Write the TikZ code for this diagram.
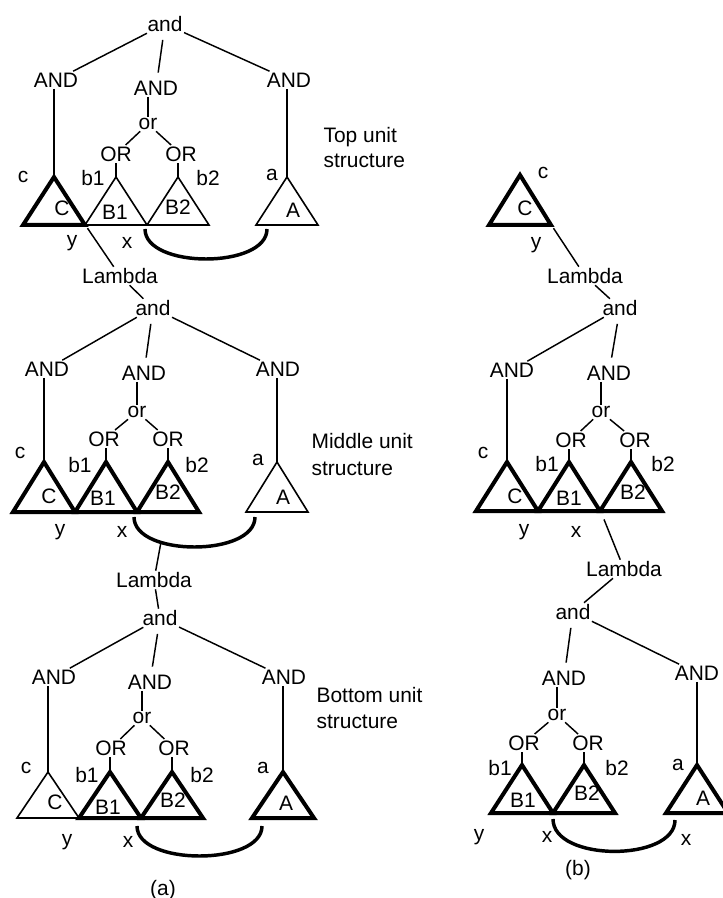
\documentclass[tikz,border=0pt]{standalone}
\usepackage{fontspec}
\setmainfont{Liberation Sans}
\begin{document}
\begin{tikzpicture}[x=0.75pt,y=0.75pt,yscale=-1,xscale=1,
  lbl/.style={inner sep=1pt,font=\fontsize{15.7}{18}\selectfont},
  lnk/.style={line width=1.1pt},
  gap/.style={shorten <=5pt,shorten >=5pt},
  trithin/.style={line width=1.2pt},
  tribold/.style={line width=3pt},
  bridge/.style={line width=2.6pt}]
\useasboundingbox (0,0) rectangle (722,898);

%%%%% (a) Top unit structure
% Text Node
\node[lbl] (andT) at (165,24) {and};
\node[lbl] (ANDTl) at (56,80) {AND};
\node[lbl] (ANDTm) at (156,88) {AND};
\node[lbl] (ANDTr) at (289,80) {AND};
\node[lbl] (orT) at (148,124) {or};
\node[lbl] (ORTl) at (116,154) {OR};
\node[lbl] (ORTr) at (181,154) {OR};
%Shape: Triangle
\coordinate (TC) at (54,177);
\coordinate (TB1) at (116,177);
\coordinate (TB2) at (178,177);
\coordinate (TA) at (287,177);
\draw[tribold] (TC) -- ++(-31,48) -- ++(62,0) -- cycle;
\draw[trithin] (TB1) -- ++(-31,48) -- ++(62,0) -- cycle;
\draw[trithin] (TB2) -- ++(-31,48) -- ++(62,0) -- cycle;
\draw[trithin] (TA) -- ++(-31,48) -- ++(62,0) -- cycle;
\coordinate (Ty) at (86,226);
% Text Node
\node[lbl] (cT) at (23,177) {c};
\node[lbl] (b1T) at (93,178) {b1};
\node[lbl] (b2T) at (208,178) {b2};
\node[lbl] (aT) at (272,175) {a};
\node[lbl] (CT) at (62,208) {C};
\node[lbl] (B1T) at (115,212) {B1};
\node[lbl] (B2T) at (178,207) {B2};
\node[lbl] (AT) at (293,210) {A};
\node[lbl] (yT) at (72,243) {y};
\node[lbl] (xT) at (127,243) {x};
\node[lbl] (lamT) at (120,276) {Lambda};
\node[lbl,anchor=base west] (unitT) at (322,143) {Top unit};
\node[lbl,anchor=base west] (strT) at (322,168) {structure};
%Straight Lines
\draw[lnk] (andT) -- (ANDTl);
\draw[lnk,gap] (andT) -- (ANDTm);
\draw[lnk] (andT) -- (ANDTr);
\draw[lnk] (ANDTl.south -| TC) -- (TC);
\draw[lnk] (ANDTr.south -| TA) -- (TA);
\draw[lnk] (ANDTm.south -| orT) -- (orT);
\draw[lnk] (orT) -- (ORTl);
\draw[lnk] (orT) -- (ORTr);
\draw[lnk] (ORTl.south -| TB1) -- (TB1);
\draw[lnk] (ORTr.south -| TB2) -- (TB2);
\draw[lnk,shorten <=2pt] (Ty) -- (lamT);
%Curve Lines
\draw[bridge] (145,229) .. controls (145,269) and (267,269) .. (267,229);

%%%%% (a) Middle unit structure
% Text Node
\node[lbl] (andM) at (153,308) {and};
\node[lbl] (ANDMl) at (47,369) {AND};
\node[lbl] (ANDMm) at (144,373) {AND};
\node[lbl] (ANDMr) at (278,369) {AND};
\node[lbl] (orM) at (137,412) {or};
\node[lbl] (ORMl) at (104,439) {OR};
\node[lbl] (ORMr) at (168,439) {OR};
%Shape: Triangle
\coordinate (MC) at (44,462);
\coordinate (MB1) at (106,462);
\coordinate (MB2) at (168,462);
\coordinate (MA) at (277,462);
\draw[tribold] (MC) -- ++(-31,50) -- ++(62,0) -- cycle;
\draw[tribold] (MB1) -- ++(-31,50) -- ++(62,0) -- cycle;
\draw[tribold] (MB2) -- ++(-31,50) -- ++(62,0) -- cycle;
\draw[trithin] (MA) -- ++(-31,50) -- ++(62,0) -- cycle;
% Text Node
\node[lbl] (cM) at (20,453) {c};
\node[lbl] (b1M) at (80,465) {b1};
\node[lbl] (b2M) at (197,465) {b2};
\node[lbl] (aM) at (258,460) {a};
\node[lbl] (CM) at (49,496) {C};
\node[lbl] (B1M) at (103,498) {B1};
\node[lbl] (B2M) at (168,492) {B2};
\node[lbl] (AM) at (283,497) {A};
\node[lbl] (yM) at (60,532) {y};
\node[lbl] (xM) at (122,532) {x};
\node[lbl] (lamM) at (154,580) {Lambda};
\node[lbl,anchor=base west] (unitM) at (310,448) {Middle unit};
\node[lbl,anchor=base west] (strM) at (310,475) {structure};
%Straight Lines
\draw[lnk] (lamT) -- (andM);
\draw[lnk] (andM) -- (ANDMl);
\draw[lnk,gap] (andM) -- (ANDMm);
\draw[lnk] (andM) -- (ANDMr);
\draw[lnk] (ANDMl.south -| MC) -- (MC);
\draw[lnk] (ANDMr.south -| MA) -- (MA);
\draw[lnk] (ANDMm.south -| orM) -- (orM);
\draw[lnk] (orM) -- (ORMl);
\draw[lnk] (orM) -- (ORMr);
\draw[lnk] (ORMl.south -| MB1) -- (MB1);
\draw[lnk] (ORMr.south -| MB2) -- (MB2);
%Curve Lines
\draw[bridge] (134,517) .. controls (134,557) and (255,557) .. (255,517);
\coordinate (Marc) at (161,542);
\draw[lnk] (Marc) -- (lamM);

%%%%% (a) Bottom unit structure
% Text Node
\node[lbl] (andB) at (160,618) {and};
\node[lbl] (ANDBl) at (54,677) {AND};
\node[lbl] (ANDBm) at (150,682) {AND};
\node[lbl] (ANDBr) at (284,677) {AND};
\node[lbl] (orB) at (142,718) {or};
\node[lbl] (ORBl) at (111,748) {OR};
\node[lbl] (ORBr) at (174,748) {OR};
%Shape: Triangle
\coordinate (BC) at (48,772);
\coordinate (BB1) at (110,772);
\coordinate (BB2) at (172,772);
\coordinate (BA) at (283,772);
\draw[trithin] (BC) -- ++(-31,46) -- ++(62,0) -- cycle;
\draw[tribold] (BB1) -- ++(-31,46) -- ++(62,0) -- cycle;
\draw[tribold] (BB2) -- ++(-31,46) -- ++(62,0) -- cycle;
\draw[tribold] (BA) -- ++(-31,46) -- ++(62,0) -- cycle;
% Text Node
\node[lbl] (cB) at (26,768) {c};
\node[lbl] (b1B) at (87,775) {b1};
\node[lbl] (b2B) at (202,775) {b2};
\node[lbl] (aB) at (263,768) {a};
\node[lbl] (CB) at (55,802) {C};
\node[lbl] (B1B) at (108,807) {B1};
\node[lbl] (B2B) at (173,800) {B2};
\node[lbl] (AB) at (286,803) {A};
\node[lbl] (yB) at (67,842) {y};
\node[lbl] (xB) at (128,842) {x};
\node[lbl] (capA) at (163,890) {(a)};
\node[lbl,anchor=base west] (unitB) at (315,702) {Bottom unit};
\node[lbl,anchor=base west] (strB) at (315,728) {structure};
%Straight Lines
\draw[lnk] (lamM) -- (andB);
\draw[lnk] (andB) -- (ANDBl);
\draw[lnk,gap] (andB) -- (ANDBm);
\draw[lnk] (andB) -- (ANDBr);
\draw[lnk] (ANDBl.south -| BC) -- (BC);
\draw[lnk] (ANDBr.south -| BA) -- (BA);
\draw[lnk] (ANDBm.south -| orB) -- (orB);
\draw[lnk] (orB) -- (ORBl);
\draw[lnk] (orB) -- (ORBr);
\draw[lnk] (ORBl.south -| BB1) -- (BB1);
\draw[lnk] (ORBr.south -| BB2) -- (BB2);
%Curve Lines
\draw[bridge] (137,826) .. controls (137,866) and (262,866) .. (262,826);

%%%%% (b)
%Shape: Triangle
\coordinate (RC) at (520,175);
\draw[tribold] (RC) -- ++(-31,50) -- ++(62,0) -- cycle;
\coordinate (Ry) at (552,226);
% Text Node
\node[lbl] (cR) at (543,173) {c};
\node[lbl] (CR) at (525,208) {C};
\node[lbl] (yR) at (536,245) {y};
\node[lbl] (lamR1) at (585,276) {Lambda};
\node[lbl] (andR1) at (620,308) {and};
\node[lbl] (ANDR1l) at (512,370) {AND};
\node[lbl] (ANDR1m) at (609,373) {AND};
\node[lbl] (orR1) at (601,412) {or};
\node[lbl] (ORR1l) at (571,440) {OR};
\node[lbl] (ORR1r) at (635,440) {OR};
%Shape: Triangle
\coordinate (RMC) at (507,462);
\coordinate (RMB1) at (569,462);
\coordinate (RMB2) at (631,462);
\draw[tribold] (RMC) -- ++(-31,49) -- ++(62,0) -- cycle;
\draw[tribold] (RMB1) -- ++(-31,49) -- ++(62,0) -- cycle;
\draw[tribold] (RMB2) -- ++(-31,49) -- ++(62,0) -- cycle;
\coordinate (Rx) at (601,512);
% Text Node
\node[lbl] (cRM) at (483,453) {c};
\node[lbl] (b1RM) at (547,464) {b1};
\node[lbl] (b2RM) at (663,464) {b2};
\node[lbl] (CRM) at (515,496) {C};
\node[lbl] (B1RM) at (569,498) {B1};
\node[lbl] (B2RM) at (633,492) {B2};
\node[lbl] (yRM) at (524,532) {y};
\node[lbl] (xRM) at (576,532) {x};
\node[lbl] (lamR2) at (624,569) {Lambda};
\node[lbl] (andR2) at (573,612) {and};
\node[lbl] (ANDR2m) at (564,678) {AND};
\node[lbl] (ANDR2r) at (697,673) {AND};
\node[lbl] (orR2) at (557,715) {or};
\node[lbl] (ORR2l) at (524,743) {OR};
\node[lbl] (ORR2r) at (588,743) {OR};
%Shape: Triangle
\coordinate (RBB1) at (522,765);
\coordinate (RBB2) at (584,765);
\coordinate (RBA) at (697,765);
\draw[tribold] (RBB1) -- ++(-31,48) -- ++(62,0) -- cycle;
\draw[tribold] (RBB2) -- ++(-31,48) -- ++(62,0) -- cycle;
\draw[tribold] (RBA) -- ++(-31,48) -- ++(62,0) -- cycle;
% Text Node
\node[lbl] (b1RB) at (500,768) {b1};
\node[lbl] (b2RB) at (617,768) {b2};
\node[lbl] (aRB) at (678,765) {a};
\node[lbl] (B1RB) at (523,800) {B1};
\node[lbl] (B2RB) at (587,793) {B2};
\node[lbl] (ARB) at (703,798) {A};
\node[lbl] (yRB) at (479,837) {y};
\node[lbl] (xRB) at (547,837) {x};
\node[lbl] (xRA) at (686,840) {x};
\node[lbl] (capB) at (578,870) {(b)};
%Straight Lines
\draw[lnk,shorten <=2pt] (Ry) -- (lamR1);
\draw[lnk] (lamR1) -- (andR1);
\draw[lnk] (andR1) -- (ANDR1l);
\draw[lnk,gap] (andR1) -- (ANDR1m);
\draw[lnk] (ANDR1l.south -| RMC) -- (RMC);
\draw[lnk] (ANDR1m.south -| orR1) -- (orR1);
\draw[lnk] (orR1) -- (ORR1l);
\draw[lnk] (orR1) -- (ORR1r);
\draw[lnk] (ORR1l.south -| RMB1) -- (RMB1);
\draw[lnk] (ORR1r.south -| RMB2) -- (RMB2);
\draw[lnk,shorten <=6pt] (Rx) -- (lamR2);
\draw[lnk] (lamR2) -- (andR2);
\draw[lnk,gap] (andR2) -- (ANDR2m);
\draw[lnk] (andR2) -- (ANDR2r);
\draw[lnk] (ANDR2r.south -| RBA) -- (RBA);
\draw[lnk] (ANDR2m.south -| orR2) -- (orR2);
\draw[lnk] (orR2) -- (ORR2l);
\draw[lnk] (orR2) -- (ORR2r);
\draw[lnk] (ORR2l.south -| RBB1) -- (RBB1);
\draw[lnk] (ORR2r.south -| RBB2) -- (RBB2);
%Curve Lines
\draw[bridge] (553,819) .. controls (553,862) and (675,862) .. (675,820);

\end{tikzpicture}
\end{document}
